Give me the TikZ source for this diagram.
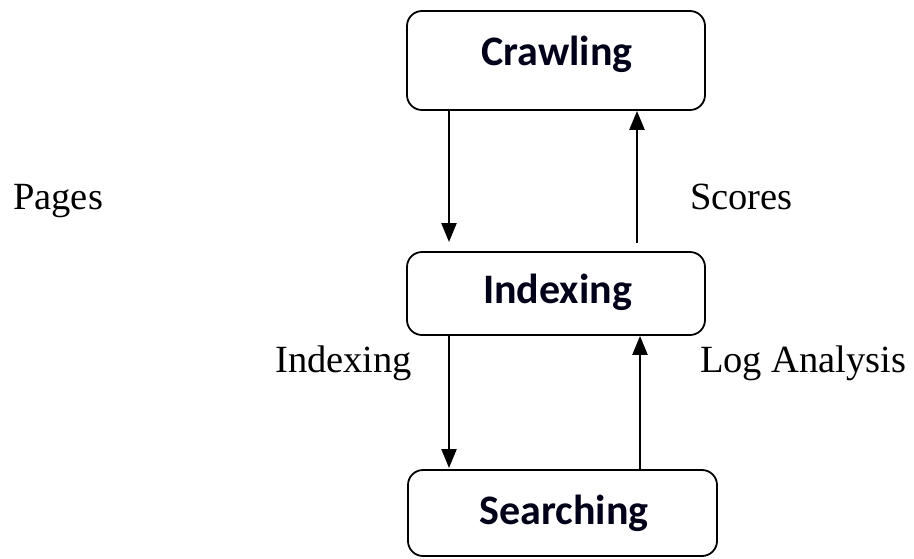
\documentclass[tikz,border=0pt]{standalone}
\usepackage{fontspec}
\setmainfont{Liberation Serif}
\newfontfamily\boxfont{Carlito}
\usetikzlibrary{arrows.meta}
\begin{document}
\begin{tikzpicture}[x=1pt,y=-1pt,
  stage/.style={draw=black, line width=1.8pt, rounded corners=15pt, inner sep=0pt},
  stagetext/.style={font=\boxfont\bfseries\fontsize{42}{44}\selectfont, anchor=base, inner sep=0pt, text=black!90!blue},
  lbl/.style={font=\fontsize{38.5}{40}\selectfont, anchor=base west, inner sep=0pt},
  arr/.style={line width=2.3pt, -{Triangle[length=19pt,width=15pt]}},
]
\useasboundingbox (0,0) rectangle (914,558);

% boxes
\node[stage, minimum width=298pt, minimum height=99pt] (crawl) at (556,60.5) {};
\node[stage, minimum width=298pt, minimum height=83pt] (idx) at (556,293.5) {};
\node[stage, minimum width=309pt, minimum height=86pt] (srch) at (562.5,513) {};

% box texts
\node[stagetext] (crawlT) at (557,65) {Crawling};
\node[stagetext] (idxT) at (557.5,303) {Indexing};
\node[stagetext] (srchT) at (564,524) {Searching};

% connectors
\coordinate (cL) at (449,242);
\coordinate (iR) at (637,243);
\coordinate (sL) at (449,468);
\coordinate (sR) at (640,470);
\draw[arr] (crawl.south -| cL) -- (cL);
\draw[arr] (iR) -- (iR |- crawl.south);
\draw[arr] (idx.south -| sL) -- (sL);
\draw[arr] (srch.north -| sR) -- (sR |- idx.south);

% labels
\node[lbl] (pages) at (13,209) {Pages};
\node[lbl] (scores) at (690,209) {Scores};
\node[lbl] (indexing) at (275,372) {Indexing};
\node[lbl] (loga) at (700,372) {Log Analysis};
\end{tikzpicture}
\end{document}
